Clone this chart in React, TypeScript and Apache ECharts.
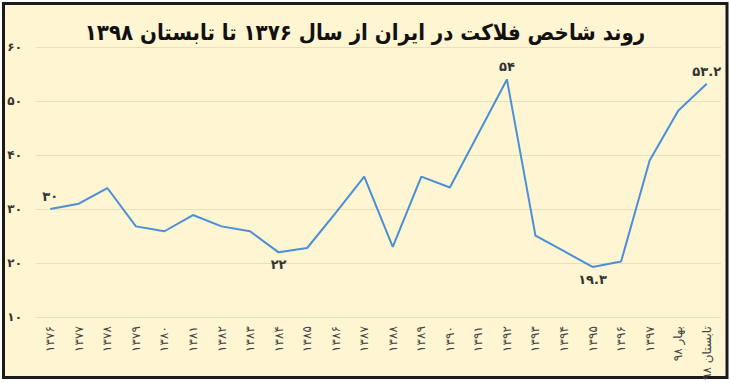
import React, { useEffect, useRef } from "react";
import * as echarts from "echarts";

const titleText = "روند شاخص فلاکت در ایران از سال ۱۳۷۶ تا تابستان ۱۳۹۸";

const categories = [
  "۱۳۷۶", "۱۳۷۷", "۱۳۷۸", "۱۳۷۹", "۱۳۸۰", "۱۳۸۱", "۱۳۸۲", "۱۳۸۳",
  "۱۳۸۴", "۱۳۸۵", "۱۳۸۶", "۱۳۸۷", "۱۳۸۸", "۱۳۸۹", "۱۳۹۰", "۱۳۹۱",
  "۱۳۹۲", "۱۳۹۳", "۱۳۹۴", "۱۳۹۵", "۱۳۹۶", "۱۳۹۷", "بهار ۹۸", "تابستان ۹۸",
];

const values = [
  30, 31, 33.9, 26.8, 25.9, 28.9, 26.8, 25.9,
  22, 22.8, 29.3, 36, 23, 36, 34, 44,
  54, 25.1, 22.2, 19.3, 20.3, 39, 48.2, 53.2,
];

// index -> [label text, position]
const pointLabels: Record<number, [string, string]> = {
  0: ["۳۰", "top"],
  8: ["۲۲", "bottom"],
  16: ["۵۴", "top"],
  19: ["۱۹.۳", "bottom"],
  23: ["۵۳.۲", "top"],
};

const yTicks = [10, 20, 30, 40, 50, 60];
const toFa = (n: number) => String(n).replace(/\d/g, (d) => "۰۱۲۳۴۵۶۷۸۹"[Number(d)]);

export default function App() {
  const ref = useRef<HTMLDivElement>(null);
  useEffect(() => {
    document.body.style.margin = "0";
    const chart = echarts.init(ref.current!, null, { renderer: "svg" });
    const font = "'DejaVu Sans', sans-serif";
    chart.setOption({
      animation: false,
      backgroundColor: "#ffffff",
      graphic: [
        {
          type: "rect",
          z: -10,
          shape: { x: 3.5, y: 3.5, width: 723.5, height: 374 },
          style: { fill: "#fef5d2", stroke: "#1a1a1a", lineWidth: 3 },
        },
      ],
      title: {
        text: titleText,
        left: "center",
        top: 16,
        textStyle: {
          fontFamily: "'DejaVu Sans Condensed', 'DejaVu Sans', sans-serif",
          fontSize: 22,
          fontWeight: "bold",
          color: "#111",
        },
      },
      grid: { left: 36, right: 9, top: 47, bottom: 65 },
      xAxis: {
        type: "category",
        data: categories,
        boundaryGap: true,
        axisLine: { show: false },
        axisTick: { show: false },
        axisLabel: {
          rotate: 90,
          interval: 0,
          margin: 9,
          fontFamily: font,
          fontSize: 12,
          color: "#444",
        },
      },
      yAxis: {
        type: "value",
        min: 10,
        max: 60,
        interval: 10,
        axisLine: { show: false },
        axisTick: { show: false },
        splitLine: { lineStyle: { color: "#eadfba", width: 1 } },
        axisLabel: {
          margin: 14,
          fontFamily: font,
          fontSize: 12,
          color: "#333",
          fontWeight: "bold",
          formatter: (v: number) => (yTicks.includes(v) ? toFa(v) : ""),
        },
      },
      series: [
        {
          type: "line",
          data: values.map((v, i) => {
            const pl = pointLabels[i];
            return pl
              ? {
                  value: v,
                  label: {
                    show: true,
                    position: pl[1],
                    formatter: pl[0],
                    distance: 6,
                    fontFamily: font,
                    fontSize: 13,
                    fontWeight: "bold",
                    color: "#333",
                  },
                }
              : v;
          }),
          symbol: "circle",
          symbolSize: 0,
          showSymbol: true,
          lineStyle: { color: "#4a8fd8", width: 2 },
          itemStyle: { color: "#4a8fd8" },
        },
      ],
    });
    return () => chart.dispose();
  }, []);
  return <div ref={ref} style={{ width: 730, height: 383 }} />;
}
